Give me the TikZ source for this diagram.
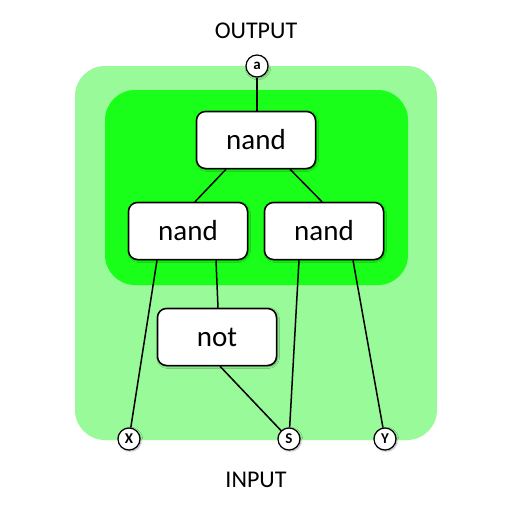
\documentclass[tikz,border=0pt]{standalone}
\usepackage{fontspec}
\setmainfont{Carlito}
\usetikzlibrary{shadows.blur}
\definecolor{palegreen}{RGB}{153, 250, 153}
\definecolor{brightgreen}{RGB}{26, 255, 26}

\tikzset{
  gate/.style={draw=black, line width=1.5pt, fill=white, rounded corners=9pt,
               minimum width=119pt, minimum height=57pt, inner sep=0pt,
               font=\fontsize{29}{29}\selectfont,
               blur shadow={shadow xshift=1pt, shadow yshift=-1pt, shadow blur steps=6}},
  pin/.style={circle, draw=black, line width=1.2pt, fill=white, minimum size=22pt,
              inner sep=0pt, font=\bfseries\fontsize{15}{15}\selectfont,
              blur shadow={shadow xshift=1pt, shadow yshift=-1pt, shadow blur steps=5}},
  wire/.style={draw=black, line width=1.5pt}
}

\begin{document}
\begin{tikzpicture}[x=1pt, y=-1pt]
            \useasboundingbox (0, 0) rectangle (512, 512);
            % Outer and inner panels
            \fill[palegreen,   rounded corners=30pt] ( 75,  66) rectangle (437, 440);
            \fill[brightgreen, rounded corners=30pt] (105,  90) rectangle (408, 285);
            % Labels
            \node[font=\fontsize{24}{24}\selectfont] (output) at (256,  31) {OUTPUT};
            \node[font=\fontsize{24}{24}\selectfont] (input)  at (256, 480) {INPUT};
            % Gates
            \node[gate] (topnand)   at (256, 140) {nand};
            \node[gate] (leftnand)  at (188, 231) {nand};
            \node[gate] (rightnand) at (324, 231) {nand};
            \node[gate] (notgate)   at (217, 337) {not};
            % Pins
            \node[pin]  (pina)      at (257,  66) {a};
            \node[pin]  (pinx)      at (129, 439) {X};
            \node[pin]  (pins)      at (289, 439) {S};
            \node[pin]  (piny)      at (385, 439) {Y};
            % Wires
            \draw[wire] (pina) -- (pina |- topnand.north);
            \draw[wire] ([xshift=-30pt]topnand.south)   -- ([xshift= 7pt]leftnand.north);
            \draw[wire] ([xshift= 34pt]topnand.south)   -- ([xshift=-2pt]rightnand.north);
            \draw[wire] ([xshift=-31pt]leftnand.south)  -- (pinx);
            \draw[wire] ([xshift= 28pt]leftnand.south)  -- ([xshift= 1pt]notgate.north);
            \draw[wire] ([xshift=-25pt]rightnand.south) -- (pins);
            \draw[wire] ([xshift= 29pt]rightnand.south) -- (piny);
            \draw[wire] ([xshift= 3pt]notgate.south)    -- (pins);
\end{tikzpicture}
\end{document}
